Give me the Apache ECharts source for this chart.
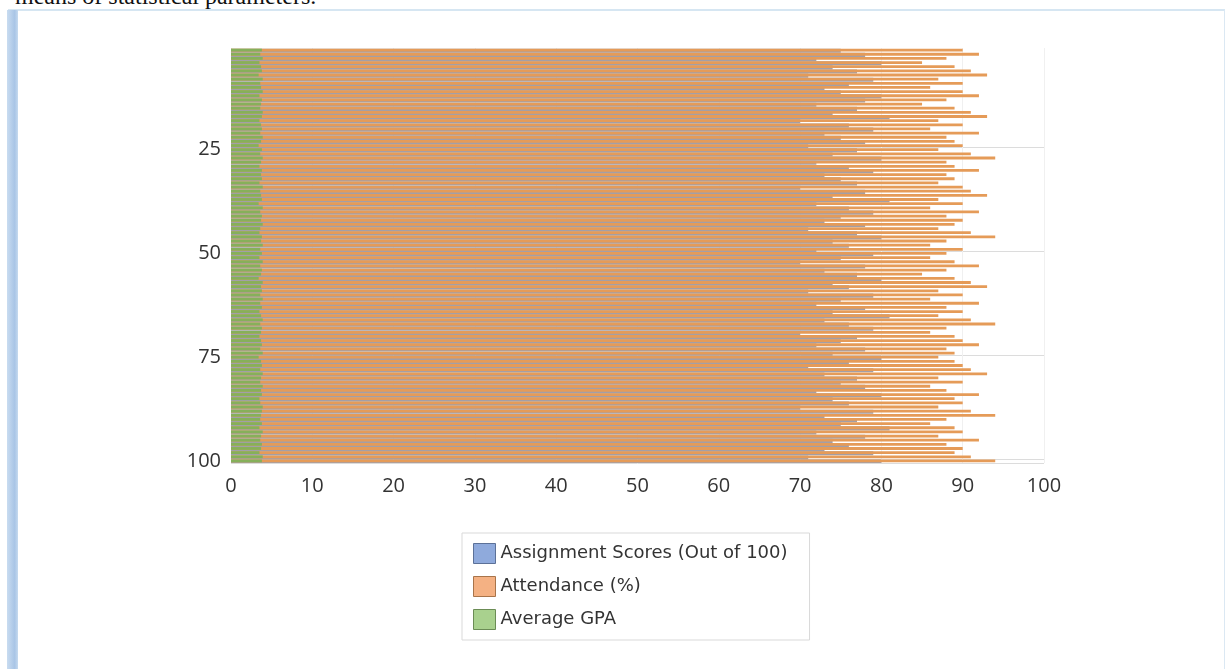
<!DOCTYPE html>
<html>
<head>
<meta charset="utf-8">
<script src="https://cdn.jsdelivr.net/npm/echarts@6/dist/echarts.min.js"></script>
<style>
  html, body { margin: 0; padding: 0; background: #fff; overflow: hidden; }
  #caption {
    position: absolute; left: 15px; top: -16px;
    font: 24px/24px "Liberation Serif", "DejaVu Serif", serif; color: #111;
    white-space: nowrap;
  }
  #frame {
    position: absolute; left: 8px; top: 9px; width: 1216px; height: 670px;
    border-top: 2px solid #d6e6f2; border-right: 1px solid #dbe8f3;
  }
  #strip {
    position: absolute; left: 7px; top: 10px; width: 11px; height: 670px;
    background: linear-gradient(to right, #c9dcf0, #a9c5e6 70%, #c6daef);
  }
  #main { position: absolute; left: 0; top: 0; width: 1228px; height: 669px; }
</style>
</head>
<body>
<div id="caption">means of statistical parameters.</div>
<div id="frame"></div>
<div id="strip"></div>
<div id="main"></div>
<script>
// students 1..100
const students = [];
for (let i = 1; i <= 100; i++) students.push(String(i));

// Assignment Scores (Out of 100)
const assignment = [
  75, 78, 72, 80, 74, 77, 71, 79, 76, 73, 75, 80, 78, 72, 77, 74, 81, 70, 76, 79, 73, 75, 78, 71, 77,
  74, 80, 72, 76, 79, 73, 75, 77, 70, 78, 74, 81, 72, 76, 79, 75, 73, 78, 71, 77, 80, 74, 76, 72, 79,
  75, 70, 78, 73, 77, 80, 74, 76, 71, 79, 75, 72, 78, 74, 81, 73, 76, 79, 70, 77, 75, 72, 78, 74, 80,
  76, 71, 79, 73, 77, 75, 78, 72, 80, 74, 76, 70, 79, 73, 77, 75, 81, 72, 78, 74, 76, 73, 79, 71, 80
];

// Attendance (%)
const attendance = [
  90, 92, 88, 85, 89, 91, 93, 87, 90, 86, 90, 92, 88, 85, 89, 91, 93, 87, 90, 86, 92, 88, 89, 90, 87,
  91, 94, 88, 89, 92, 88, 89, 87, 90, 91, 93, 87, 90, 86, 92, 88, 90, 89, 87, 91, 94, 88, 86, 90, 88,
  86, 89, 92, 88, 85, 89, 91, 93, 87, 90, 86, 92, 88, 90, 87, 91, 94, 88, 86, 89, 90, 92, 88, 89, 87,
  89, 90, 91, 93, 87, 90, 86, 88, 92, 89, 90, 87, 91, 94, 88, 86, 89, 90, 87, 92, 88, 90, 89, 91, 94
];

// Average GPA
const gpa = [
  3.8, 3.6, 3.9, 3.5, 3.7, 3.8, 3.4, 3.9, 3.6, 3.7,
  3.9, 3.5, 3.8, 3.7, 3.6, 3.9, 3.8, 3.5, 3.7, 3.8,
  3.6, 3.9, 3.7, 3.4, 3.8, 3.6, 3.9, 3.7, 3.5, 3.8,
  3.7, 3.8, 3.5, 3.9, 3.6, 3.7, 3.8, 3.4, 3.9, 3.6,
  3.8, 3.7, 3.9, 3.6, 3.5, 3.8, 3.7, 3.9, 3.6, 3.8,
  3.5, 3.9, 3.6, 3.8, 3.7, 3.4, 3.9, 3.7, 3.8, 3.6,
  3.9, 3.6, 3.8, 3.5, 3.7, 3.9, 3.6, 3.8, 3.7, 3.5,
  3.7, 3.8, 3.6, 3.9, 3.4, 3.7, 3.8, 3.6, 3.9, 3.7,
  3.6, 3.9, 3.7, 3.8, 3.5, 3.6, 3.9, 3.8, 3.7, 3.6,
  3.8, 3.5, 3.9, 3.7, 3.6, 3.8, 3.7, 3.5, 3.9, 3.8
];

const xTicks = [0, 10, 20, 30, 40, 50, 60, 70, 80, 90, 100];

const chart = echarts.init(document.getElementById('main'));

const every25 = (idx) => (idx + 1) % 25 === 0;

chart.setOption({
  animation: false,
  grid: { left: 231, right: 184, top: 48, bottom: 206 },
  legend: {
    orient: 'vertical',
    left: 462, top: 533,
    padding: [10, 22, 10, 11],
    itemWidth: 22, itemHeight: 20, itemGap: 12,
    backgroundColor: '#fff',
    borderColor: '#d9d9d9', borderWidth: 1,
    textStyle: { fontFamily: 'DejaVu Sans', fontSize: 18, color: '#333' },
    data: [
      { name: 'Assignment Scores (Out of 100)', icon: 'rect', itemStyle: { color: '#8faadc', borderColor: '#5c7198', borderWidth: 1 } },
      { name: 'Attendance (%)', icon: 'rect', itemStyle: { color: '#f4b183', borderColor: '#a8744a', borderWidth: 1 } },
      { name: 'Average GPA', icon: 'rect', itemStyle: { color: '#a9d18e', borderColor: '#6b8c55', borderWidth: 1 } }
    ]
  },
  xAxis: {
    type: 'value', min: 0, max: 100, interval: 10,
    axisLine: { show: false }, axisTick: { show: false },
    axisLabel: {
      fontFamily: 'Open Sans', fontSize: 20, color: '#333', margin: 13,
      formatter: (v) => xTicks.includes(v) ? String(v) : ''
    },
    splitLine: { show: true, lineStyle: { color: '#f0f0f0', width: 1 } }
  },
  yAxis: {
    type: 'category', data: students, inverse: true,
    axisLine: { show: false }, axisTick: { show: false },
    axisLabel: { interval: every25, fontFamily: 'Open Sans', fontSize: 20, color: '#333', margin: 10 },
    splitLine: { show: true, interval: every25, lineStyle: { color: '#dcdcdc', width: 1 } }
  },
  series: [
    {
      name: 'Assignment Scores (Out of 100)', type: 'bar', data: assignment,
      barWidth: 4.1, barGap: '-100%',
      itemStyle: { color: '#a29fa8' }
    },
    {
      name: 'Attendance (%)', type: 'bar', data: attendance,
      barWidth: 2.8, barGap: '-100%',
      itemStyle: { color: '#e59b58' }
    },
    {
      name: 'Average GPA', type: 'bar', data: gpa,
      barWidth: 2.8, barGap: '-100%',
      itemStyle: { color: '#86b05a' }
    }
  ]
});
</script>
</body>
</html>
